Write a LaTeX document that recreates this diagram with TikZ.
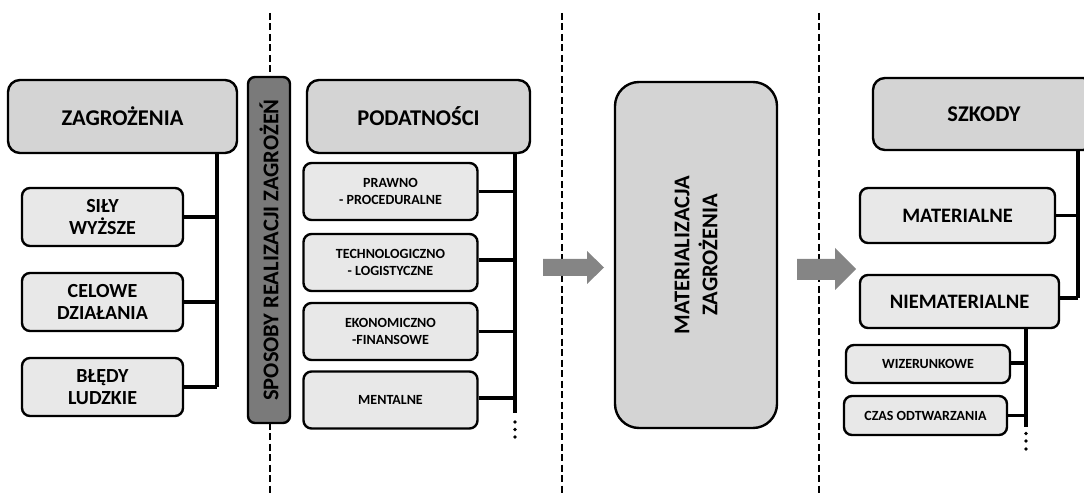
\documentclass[tikz,border=0pt]{standalone}
\usepackage{fontspec}
\setmainfont{Carlito}
\definecolor{headfill}{HTML}{D4D4D4}
\definecolor{itemfill}{HTML}{E8E8E8}
\definecolor{barfill}{HTML}{7A7A7A}
\definecolor{flowfill}{HTML}{858585}
\begin{document}
\begin{tikzpicture}[x=1pt,y=-1pt,
  every node/.style={align=center, inner sep=0pt},
  headbox/.style={draw, line width=2.4pt, rounded corners=12pt, fill=headfill,
    font=\bfseries\fontsize{22.5}{27}\selectfont},
  itembox/.style={draw, line width=2.4pt, rounded corners=8pt, fill=itemfill},
  bigtext/.style={font=\bfseries\fontsize{20}{22.5}\selectfont},
  smalltext/.style={font=\bfseries\fontsize{14}{17}\selectfont},
  sepline/.style={dash pattern=on 7pt off 3.5pt, line width=2.3pt},
  conn/.style={line width=3.2pt},
  flow/.style={fill=flowfill, draw=none},
  vdots/.style={circle, fill=black, minimum size=3.8pt}
]
\useasboundingbox (0,0) rectangle (1084,494);
\clip (0,0) rectangle (1084,494);

% phase separators
\draw[sepline] (270,13) -- (270,494);
\draw[sepline] (562,13) -- (562,494);
\draw[sepline] (819,13) -- (819,494);

% threats
\node[headbox, minimum width=229pt, minimum height=73pt] (zag) at (122.5,116.5) {ZAGROŻENIA};
\node[itembox, bigtext, minimum width=161pt, minimum height=58pt] (sily) at (102.5,217) {SIŁY\\WYŻSZE};
\node[itembox, bigtext, minimum width=161pt, minimum height=58pt] (cel) at (102.5,302) {CELOWE\\DZIAŁANIA};
\node[itembox, bigtext, minimum width=161pt, minimum height=58pt] (bledy) at (102.5,387) {BŁĘDY\\LUDZKIE};
\coordinate (zspine) at (217,387);
\draw[conn] (zag.south -| zspine) -- (zspine);
\foreach \n in {sily,cel,bledy} \draw[conn] (\n.east) -- (\n.east -| zspine);

% ways of realising threats
\node[draw, line width=2.4pt, rounded corners=7pt, fill=barfill,
  minimum width=42pt, minimum height=346pt] (spos) at (269,250) {};
\node[rotate=90, font=\bfseries\fontsize{22.5}{27}\selectfont] (spost) at (spos.center) {SPOSOBY REALIZACJI ZAGROŻEŃ};

% vulnerabilities
\node[headbox, minimum width=223pt, minimum height=73pt] (pod) at (418.5,116.5) {PODATNOŚCI};
\node[itembox, smalltext, minimum width=174pt, minimum height=57pt] (prawno) at (390.5,191.5) {PRAWNO\\- PROCEDURALNE};
\node[itembox, smalltext, minimum width=174pt, minimum height=57pt] (tech) at (390.5,262.5) {TECHNOLOGICZNO\\- LOGISTYCZNE};
\node[itembox, smalltext, minimum width=174pt, minimum height=57pt] (eko) at (390.5,331.5) {EKONOMICZNO\\-FINANSOWE};
\node[itembox, smalltext, minimum width=174pt, minimum height=57pt] (ment) at (390.5,400) {MENTALNE};
\coordinate (pspine) at (515,413);
\draw[conn] (pod.south -| pspine) -- (pspine);
\draw[conn] (prawno.east) -- (prawno.east -| pspine);
\draw[conn] (tech.east |- 0,260) -- (pspine |- 0,260);
\draw[conn] (eko.east) -- (eko.east -| pspine);
\draw[conn] (ment.east |- 0,398) -- (pspine |- 0,398);
\node[vdots] (pd1) at (515,422) {};
\node[vdots] (pd2) at (515,429.5) {};
\node[vdots] (pd3) at (515,437) {};

% flow arrows
\fill[flow] (543,259) -- (587,259) -- (587,251) -- (604,267.5) -- (587,284) -- (587,276) -- (543,276) -- cycle;
\fill[flow] (797,259) -- (835,259) -- (835,248) -- (856,269) -- (835,290) -- (835,280) -- (797,280) -- cycle;

% materialisation
\node[draw, line width=2.4pt, rounded corners=24pt, fill=headfill,
  minimum width=162pt, minimum height=346pt] (mat) at (696,255) {};
\node[rotate=90, font=\bfseries\fontsize{22.5}{28}\selectfont] (matt) at (mat.center) {MATERIALIZACJA\\ZAGROŻENIA};

% damages
\node[headbox, minimum width=222pt, minimum height=72pt] (szk) at (984,114) {SZKODY};
\node[itembox, font=\bfseries\fontsize{20.5}{24}\selectfont, minimum width=195pt, minimum height=55pt] (mater) at (957.5,215.5) {MATERIALNE};
\node[itembox, font=\bfseries\fontsize{20.5}{24}\selectfont, minimum width=199pt, minimum height=53pt] (niem) at (959.5,301.5) {NIEMATERIALNE};
\coordinate (sspine) at (1078,298);
\draw[conn] (szk.south -| sspine) -- (sspine);
\draw[conn] (mater.east) -- (mater.east -| sspine);
\draw[conn] (niem.east |- sspine) -- (sspine);

\node[itembox, smalltext, minimum width=164pt, minimum height=38pt] (wiz) at (928,364) {WIZERUNKOWE};
\node[itembox, smalltext, minimum width=163pt, minimum height=39pt] (czas) at (925.5,415.5) {CZAS ODTWARZANIA};
\coordinate (nspine) at (1026,427);
\draw[conn] (niem.south -| nspine) -- (nspine);
\draw[conn] (wiz.east |- 0,363) -- (nspine |- 0,363);
\draw[conn] (czas.east) -- (czas.east -| nspine);
\node[vdots] (nd1) at (1026,433.5) {};
\node[vdots] (nd2) at (1026,441) {};
\node[vdots] (nd3) at (1026,449) {};
\end{tikzpicture}
\end{document}
